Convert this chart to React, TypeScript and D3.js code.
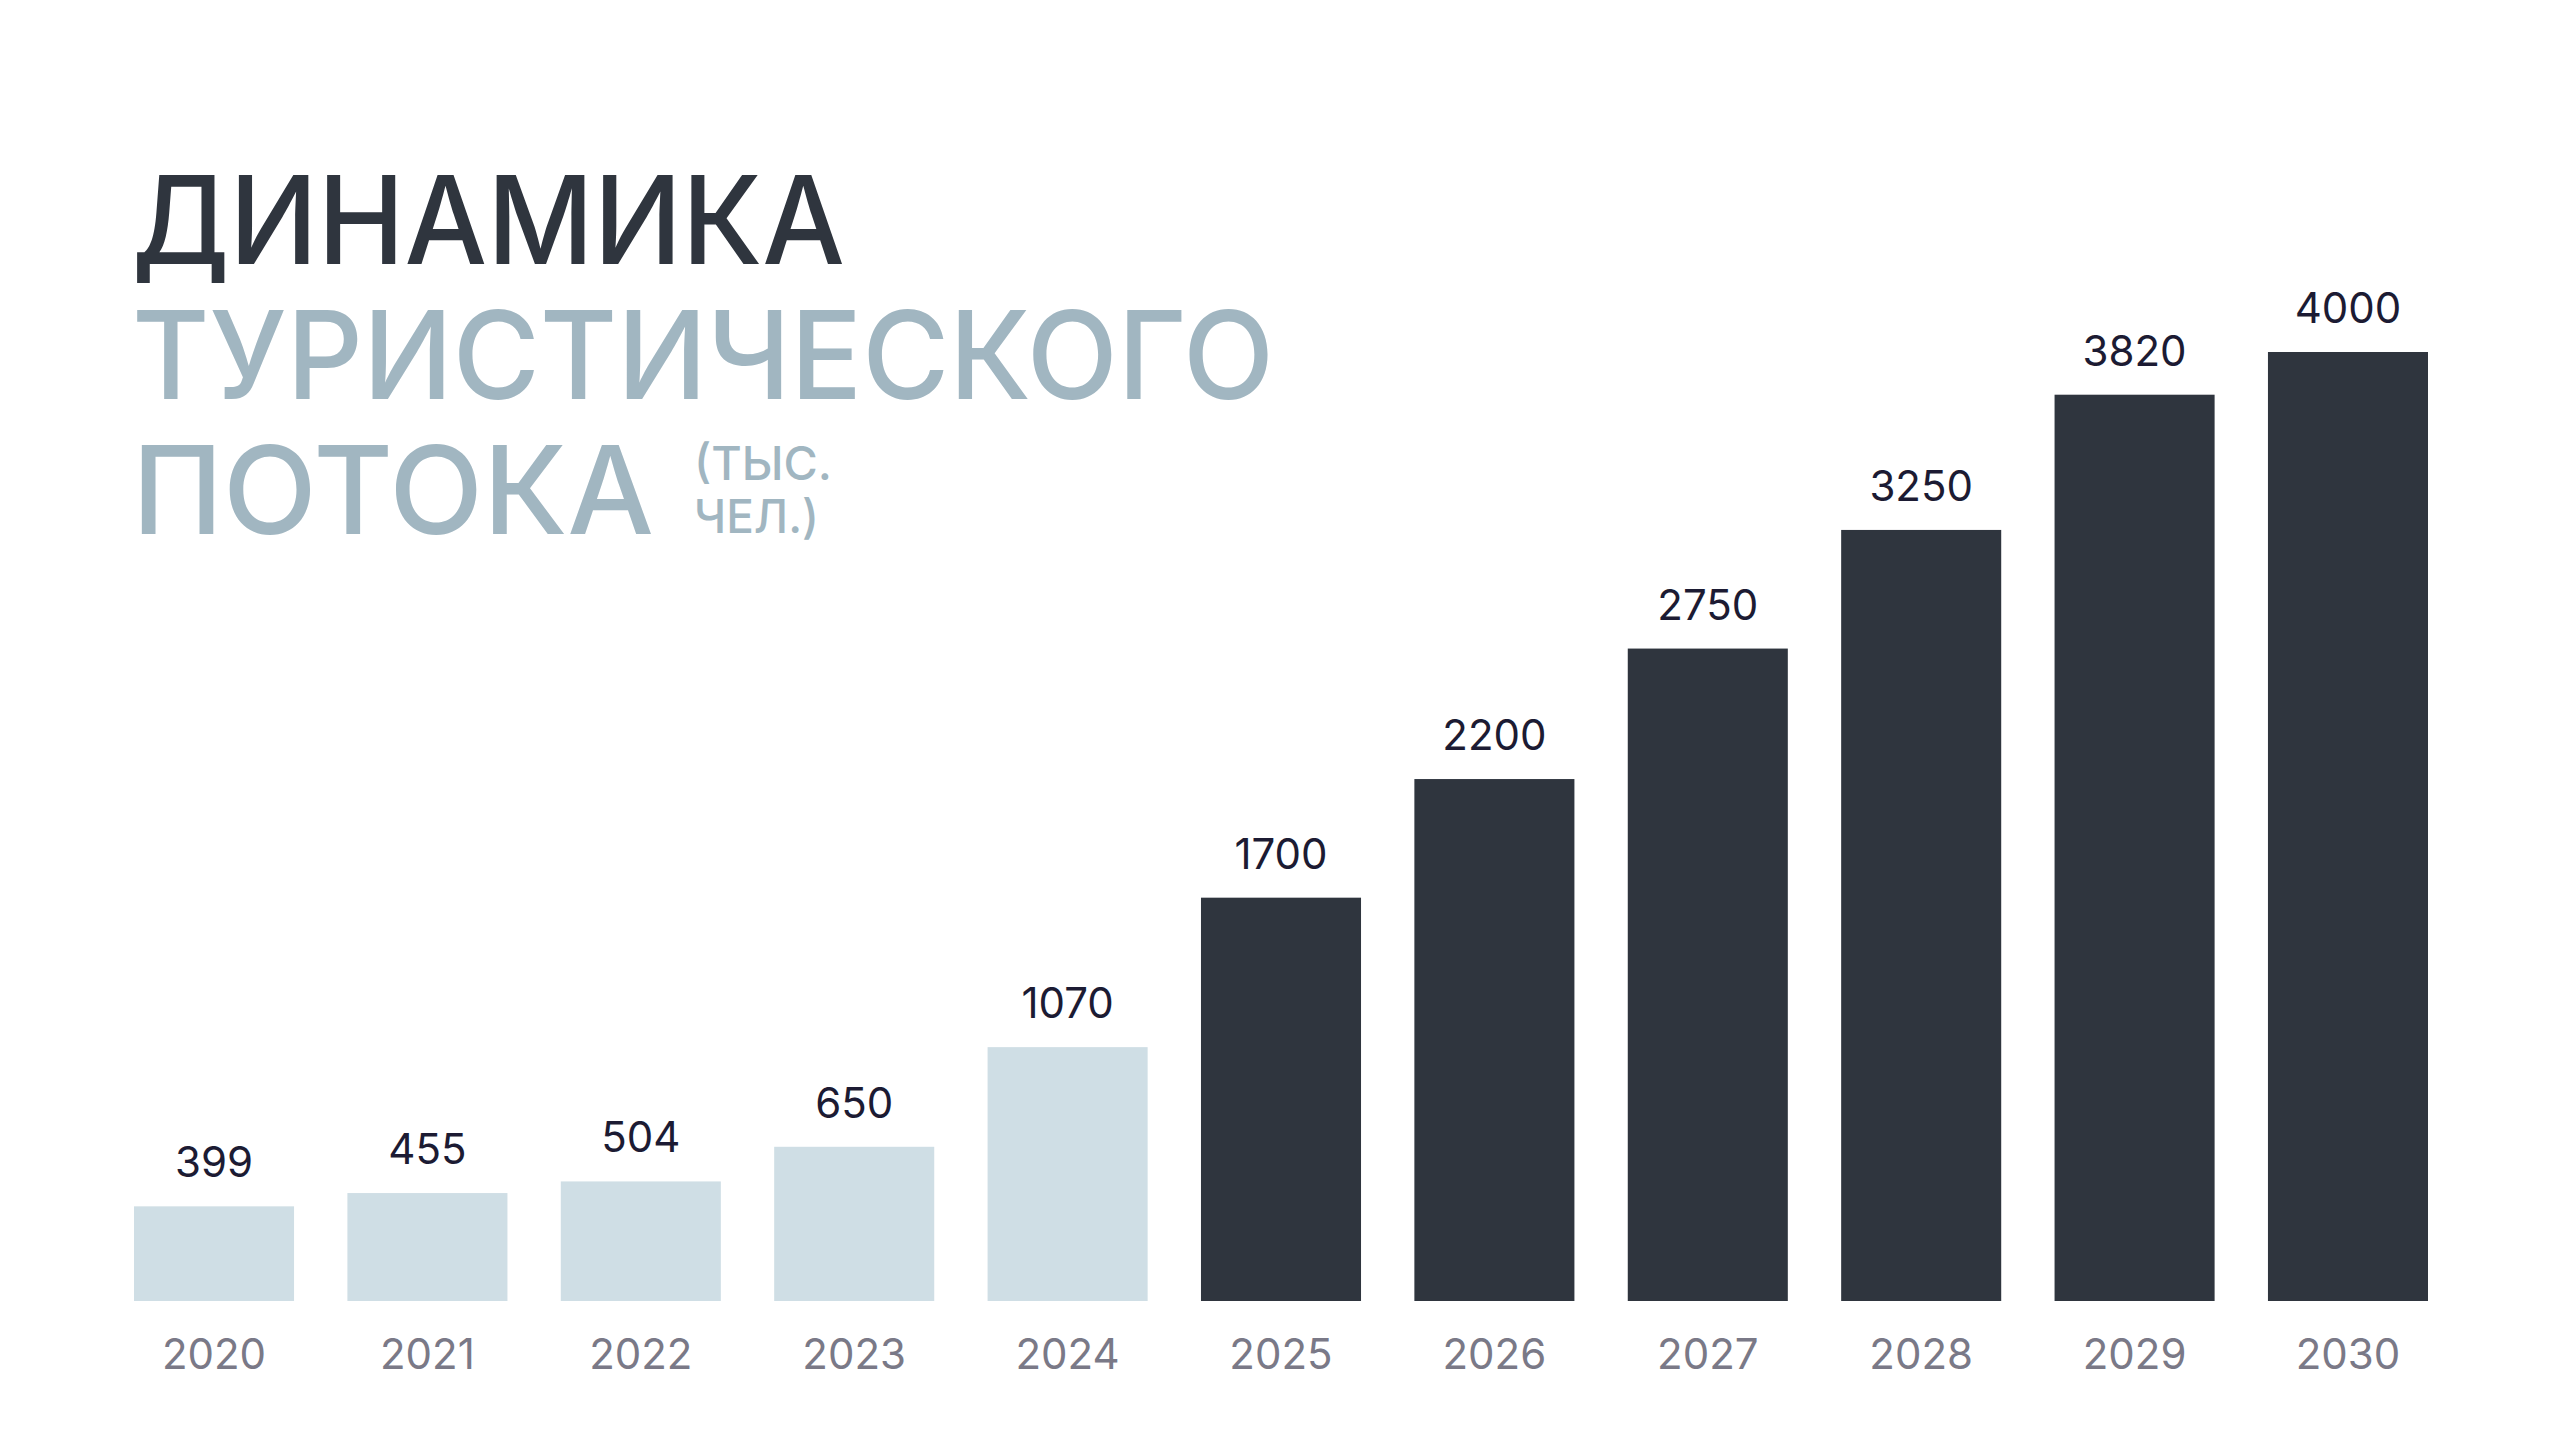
import * as d3 from 'd3';

const years = ['2020', '2021', '2022', '2023', '2024', '2025', '2026', '2027', '2028', '2029', '2030'];
const visitors = [399, 455, 504, 650, 1070, 1700, 2200, 2750, 3250, 3820, 4000];
const forecastFrom = '2025';

const titleLines = ['ДИНАМИКА', 'ТУРИСТИЧЕСКОГО', 'ПОТОКА'];
const unitLines = ['(ТЫС.', 'ЧЕЛ.)'];

const width = 2560;
const height = 1440;

const colors = {
  dark: '#2f353e',
  light: '#cfdee5',
  titleAccent: '#a1b6c1',
  value: '#1c1b33',
  year: '#7a7987',
};

export default function App() {
  // plot area: bars from x=134 to 2428, baseline at y=1301
  const x = d3.scaleBand<string>().domain(years).range([134, 2428]).paddingInner(0.25).paddingOuter(0);
  const y = d3.scaleLinear().domain([0, 4000]).range([1301, 352]);
  const isForecast = (yr: string) => +yr >= +forecastFrom;

  const titleFont = 'Inter, "DejaVu Sans", sans-serif';
  const titleWidths = [713, 1142, 522];
  const titleBaselines = [264, 399, 534];

  return (
    <svg
      width={width}
      height={height}
      viewBox={`0 0 ${width} ${height}`}
      style={{ position: 'absolute', left: 0, top: 0, background: '#ffffff' }}
    >
      <rect width={width} height={height} fill="#ffffff" />

      {/* title */}
      <g fontFamily={titleFont} fontWeight={500}>
        {titleLines.map((line, i) => (
          <text
            key={line}
            x={132}
            y={titleBaselines[i]}
            fontSize={122}
            fill={i === 0 ? colors.dark : colors.titleAccent}
            textLength={titleWidths[i]}
            lengthAdjust="spacingAndGlyphs"
          >
            {line}
          </text>
        ))}
        {unitLines.map((line, i) => (
          <text
            key={line}
            x={694}
            y={480 + i * 53}
            fontSize={47}
            fill={colors.titleAccent}
            textLength={i === 0 ? 138 : 125}
            lengthAdjust="spacingAndGlyphs"
          >
            {line}
          </text>
        ))}
      </g>

      {/* bars */}
      <g>
        {years.map((yr, i) => (
          <rect
            key={yr}
            x={x(yr)!}
            y={y(visitors[i])}
            width={x.bandwidth()}
            height={y(0) - y(visitors[i])}
            fill={isForecast(yr) ? colors.dark : colors.light}
          />
        ))}
      </g>

      {/* value labels */}
      <g fontFamily="Inter, sans-serif" fontSize={42} textAnchor="middle" fill={colors.value}>
        {years.map((yr, i) => (
          <text key={yr} x={x(yr)! + x.bandwidth() / 2} y={y(visitors[i]) - 29}>
            {visitors[i]}
          </text>
        ))}
      </g>

      {/* year labels */}
      <g fontFamily="Inter, sans-serif" fontSize={42} textAnchor="middle" fill={colors.year}>
        {years.map((yr) => (
          <text key={yr} x={x(yr)! + x.bandwidth() / 2} y={y(0) + 68}>
            {yr}
          </text>
        ))}
      </g>
    </svg>
  );
}
